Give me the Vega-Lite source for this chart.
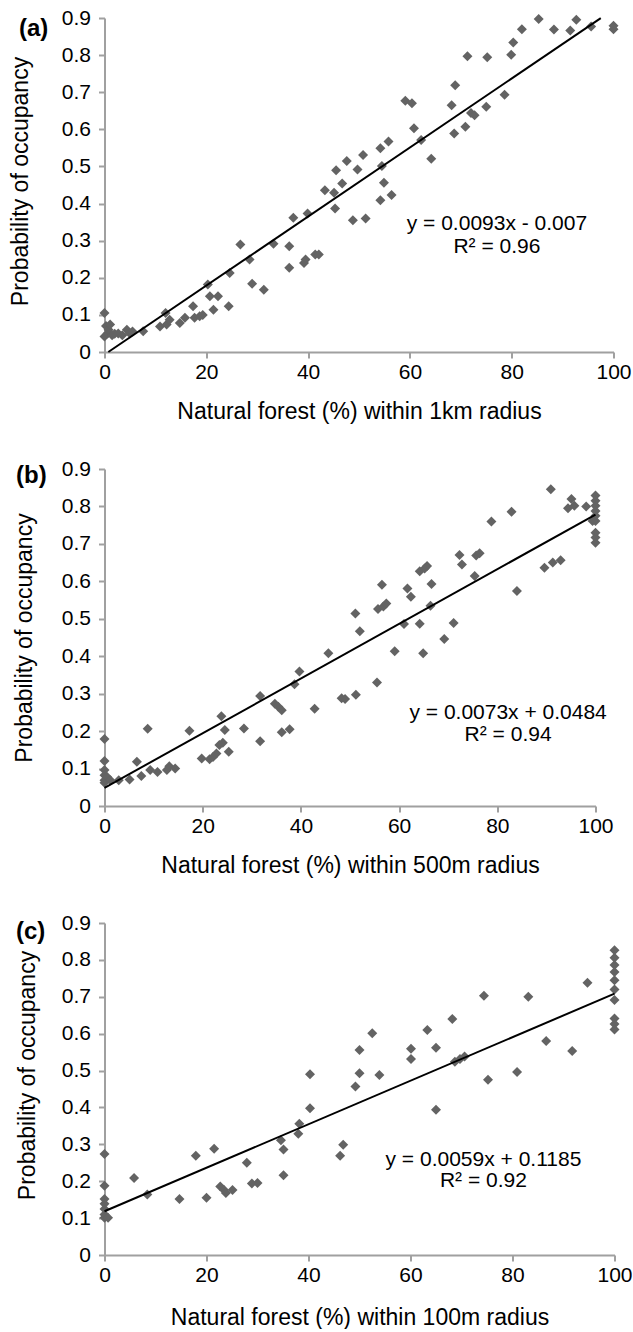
{
  "$schema": "https://vega.github.io/schema/vega-lite/v6.json",
  "background": "white",
  "padding": {"left": 9.5, "top": 7, "right": 0, "bottom": 0},
  "config": {
    "font": "Liberation Sans",
    "view": {"stroke": null},
    "axis": {
      "grid": false,
      "domainColor": "#a0a0a0",
      "domainWidth": 2,
      "tickColor": "#a0a0a0",
      "tickWidth": 2,
      "tickSize": 6,
      "labelColor": "black",
      "titleColor": "black",
      "labelFont": "Liberation Sans",
      "titleFont": "Liberation Sans",
      "labelFontSize": 21,
      "titleFontSize": 23,
      "titleFontWeight": "normal",
      "labelFlush": false,
      "labelOverlap": false
    },
    "axisX": {"labelPadding": 3, "titleBaseline": "alphabetic", "format": "d"},
    "axisY": {"labelPadding": 8, "format": "~g"},
    "title": {"fontSize": 24, "fontWeight": "bold", "anchor": "start", "frame": "group", "color": "black", "font": "Liberation Sans"}
  },
  "datasets": {
    "a": [
      {"x": 0, "y": 0.105}, {"x": 0, "y": 0.042}, {"x": 0.3, "y": 0.07}, {"x": 0.6, "y": 0.05}, {"x": 0.8, "y": 0.06},
      {"x": 1.1, "y": 0.074}, {"x": 1.5, "y": 0.045}, {"x": 2, "y": 0.049}, {"x": 2.7, "y": 0.05}, {"x": 3.5, "y": 0.045},
      {"x": 4.4, "y": 0.06}, {"x": 5, "y": 0.05}, {"x": 5.5, "y": 0.055}, {"x": 7.6, "y": 0.056}, {"x": 10.9, "y": 0.069},
      {"x": 12, "y": 0.105}, {"x": 12.2, "y": 0.074}, {"x": 12.8, "y": 0.087}, {"x": 14.8, "y": 0.078}, {"x": 15.8, "y": 0.092},
      {"x": 17.4, "y": 0.123}, {"x": 17.7, "y": 0.092}, {"x": 18.7, "y": 0.096}, {"x": 19.3, "y": 0.1}, {"x": 20.3, "y": 0.182},
      {"x": 20.7, "y": 0.15}, {"x": 21.4, "y": 0.114}, {"x": 22.3, "y": 0.15}, {"x": 24.4, "y": 0.123}, {"x": 24.6, "y": 0.213},
      {"x": 26.7, "y": 0.29}, {"x": 28.5, "y": 0.249}, {"x": 29, "y": 0.184}, {"x": 31.3, "y": 0.168}, {"x": 33.2, "y": 0.292},
      {"x": 36.3, "y": 0.227}, {"x": 36.3, "y": 0.285}, {"x": 37.1, "y": 0.362}, {"x": 39.2, "y": 0.24}, {"x": 39.5, "y": 0.249},
      {"x": 39.9, "y": 0.373}, {"x": 41.4, "y": 0.263}, {"x": 42.1, "y": 0.263}, {"x": 43.3, "y": 0.436}, {"x": 45.1, "y": 0.429},
      {"x": 45.3, "y": 0.387}, {"x": 45.5, "y": 0.49}, {"x": 46.7, "y": 0.454}, {"x": 47.6, "y": 0.515}, {"x": 48.8, "y": 0.355},
      {"x": 49.7, "y": 0.492}, {"x": 50.8, "y": 0.531}, {"x": 51.3, "y": 0.36}, {"x": 54.2, "y": 0.549}, {"x": 54.5, "y": 0.501},
      {"x": 54.9, "y": 0.456}, {"x": 54.2, "y": 0.409}, {"x": 55.8, "y": 0.567}, {"x": 56.4, "y": 0.423}, {"x": 59.1, "y": 0.677},
      {"x": 60.4, "y": 0.67}, {"x": 60.8, "y": 0.603}, {"x": 62.2, "y": 0.571}, {"x": 64.2, "y": 0.521}, {"x": 68.2, "y": 0.665},
      {"x": 68.9, "y": 0.719}, {"x": 68.7, "y": 0.589}, {"x": 70.9, "y": 0.607}, {"x": 71.3, "y": 0.797}, {"x": 72, "y": 0.644},
      {"x": 72.7, "y": 0.638}, {"x": 75, "y": 0.661}, {"x": 75.2, "y": 0.794}, {"x": 78.6, "y": 0.693}, {"x": 79.9, "y": 0.801},
      {"x": 80.3, "y": 0.834}, {"x": 82, "y": 0.87}, {"x": 85.3, "y": 0.897}, {"x": 88.3, "y": 0.869}, {"x": 91.5, "y": 0.866},
      {"x": 92.7, "y": 0.895}, {"x": 95.6, "y": 0.877}, {"x": 100, "y": 0.879}, {"x": 100, "y": 0.87}
    ],
    "b": [
      {"x": 0, "y": 0.179}, {"x": 0, "y": 0.12}, {"x": 0, "y": 0.096}, {"x": 0, "y": 0.082}, {"x": 0, "y": 0.069},
      {"x": 0, "y": 0.062}, {"x": 0.5, "y": 0.078}, {"x": 1.2, "y": 0.069}, {"x": 2.9, "y": 0.069}, {"x": 5.1, "y": 0.071},
      {"x": 6.6, "y": 0.118}, {"x": 7.5, "y": 0.08}, {"x": 8.8, "y": 0.206}, {"x": 9.3, "y": 0.096}, {"x": 10.8, "y": 0.091},
      {"x": 12.7, "y": 0.096}, {"x": 13.2, "y": 0.106}, {"x": 14.4, "y": 0.1}, {"x": 17.3, "y": 0.201}, {"x": 19.8, "y": 0.127},
      {"x": 21.4, "y": 0.125}, {"x": 22.1, "y": 0.131}, {"x": 22.8, "y": 0.14}, {"x": 23.4, "y": 0.163}, {"x": 23.8, "y": 0.24},
      {"x": 24.1, "y": 0.169}, {"x": 24.5, "y": 0.203}, {"x": 25.3, "y": 0.145}, {"x": 28.4, "y": 0.207}, {"x": 31.7, "y": 0.294},
      {"x": 31.7, "y": 0.173}, {"x": 34.7, "y": 0.273}, {"x": 35.4, "y": 0.265}, {"x": 36.1, "y": 0.256}, {"x": 36.1, "y": 0.197},
      {"x": 37.7, "y": 0.205}, {"x": 38.7, "y": 0.325}, {"x": 39.7, "y": 0.359}, {"x": 42.8, "y": 0.26}, {"x": 45.6, "y": 0.408},
      {"x": 48.3, "y": 0.288}, {"x": 49, "y": 0.286}, {"x": 51.2, "y": 0.297}, {"x": 51.1, "y": 0.514}, {"x": 52, "y": 0.467},
      {"x": 55.5, "y": 0.33}, {"x": 55.7, "y": 0.526}, {"x": 56.5, "y": 0.591}, {"x": 56.8, "y": 0.533}, {"x": 57.4, "y": 0.541},
      {"x": 59.1, "y": 0.413}, {"x": 61, "y": 0.486}, {"x": 61.7, "y": 0.581}, {"x": 62.4, "y": 0.559}, {"x": 64.2, "y": 0.487},
      {"x": 64.2, "y": 0.627}, {"x": 64.9, "y": 0.408}, {"x": 65.2, "y": 0.634}, {"x": 65.7, "y": 0.641}, {"x": 66.4, "y": 0.535},
      {"x": 66.6, "y": 0.593}, {"x": 69.2, "y": 0.446}, {"x": 71.1, "y": 0.489}, {"x": 72.3, "y": 0.67}, {"x": 72.8, "y": 0.645},
      {"x": 75.4, "y": 0.614}, {"x": 75.7, "y": 0.669}, {"x": 76.4, "y": 0.675}, {"x": 78.8, "y": 0.76}, {"x": 82.9, "y": 0.786},
      {"x": 84, "y": 0.574}, {"x": 89.6, "y": 0.636}, {"x": 90.9, "y": 0.846}, {"x": 91.3, "y": 0.65}, {"x": 92.9, "y": 0.656},
      {"x": 94.4, "y": 0.795}, {"x": 95.1, "y": 0.82}, {"x": 95.7, "y": 0.802}, {"x": 98.1, "y": 0.8}, {"x": 100, "y": 0.829},
      {"x": 100, "y": 0.815}, {"x": 100, "y": 0.802}, {"x": 100, "y": 0.788}, {"x": 100, "y": 0.775}, {"x": 100, "y": 0.761},
      {"x": 99.4, "y": 0.761}, {"x": 100, "y": 0.73}, {"x": 100, "y": 0.717}, {"x": 100, "y": 0.703}
    ],
    "c": [
      {"x": 0, "y": 0.274}, {"x": 0, "y": 0.188}, {"x": 0, "y": 0.152}, {"x": 0, "y": 0.139}, {"x": 0, "y": 0.125},
      {"x": 0, "y": 0.11}, {"x": 0, "y": 0.101}, {"x": 0.7, "y": 0.101}, {"x": 5.8, "y": 0.209}, {"x": 8.4, "y": 0.164},
      {"x": 14.7, "y": 0.152}, {"x": 17.9, "y": 0.269}, {"x": 20, "y": 0.155}, {"x": 21.5, "y": 0.288}, {"x": 22.7, "y": 0.186},
      {"x": 23.4, "y": 0.177}, {"x": 23.8, "y": 0.168}, {"x": 25.1, "y": 0.176}, {"x": 27.9, "y": 0.25}, {"x": 28.9, "y": 0.194},
      {"x": 30, "y": 0.195}, {"x": 34.6, "y": 0.311}, {"x": 35.1, "y": 0.286}, {"x": 35.1, "y": 0.216}, {"x": 38, "y": 0.329},
      {"x": 38.2, "y": 0.356}, {"x": 40.3, "y": 0.49}, {"x": 40.3, "y": 0.398}, {"x": 46.2, "y": 0.269}, {"x": 46.8, "y": 0.299},
      {"x": 49.2, "y": 0.457}, {"x": 50, "y": 0.493}, {"x": 50, "y": 0.556}, {"x": 52.5, "y": 0.601}, {"x": 53.9, "y": 0.488},
      {"x": 60.1, "y": 0.531}, {"x": 60.1, "y": 0.559}, {"x": 63.3, "y": 0.61}, {"x": 65, "y": 0.562}, {"x": 65, "y": 0.394},
      {"x": 68.2, "y": 0.64}, {"x": 68.7, "y": 0.524}, {"x": 69.7, "y": 0.531}, {"x": 70.6, "y": 0.538}, {"x": 74.4, "y": 0.703},
      {"x": 75.2, "y": 0.475}, {"x": 80.9, "y": 0.496}, {"x": 83.1, "y": 0.7}, {"x": 86.6, "y": 0.58}, {"x": 91.7, "y": 0.553},
      {"x": 94.7, "y": 0.738}, {"x": 100, "y": 0.826}, {"x": 100, "y": 0.806}, {"x": 100, "y": 0.786}, {"x": 100, "y": 0.767},
      {"x": 100, "y": 0.745}, {"x": 100, "y": 0.72}, {"x": 100, "y": 0.691}, {"x": 100, "y": 0.641}, {"x": 100, "y": 0.626},
      {"x": 100, "y": 0.611}
    ],
    "aLine": [{"x": 0.75, "y": 0}, {"x": 97.5, "y": 0.8998}],
    "bLine": [{"x": 0, "y": 0.0484}, {"x": 100, "y": 0.7784}],
    "cLine": [{"x": 0, "y": 0.1185}, {"x": 100, "y": 0.7085}],
    "aEq": [{"label": "y = 0.0093x - 0.007"}, {"label": "R² = 0.96"}],
    "bEq": [{"label": "y = 0.0073x + 0.0484"}, {"label": "R² = 0.94"}],
    "cEq": [{"label": "y = 0.0059x + 0.1185"}, {"label": "R² = 0.92"}]
  },
  "align": {"row": "none", "column": "all"},
  "spacing": 34,
  "vconcat": [
    {
      "width": 509, "height": 334,
      "title": {"text": "(a)", "dx": -85.5, "dy": 38},
      "layer": [
        {"data": {"name": "a"}, "mark": {"type": "point", "shape": "diamond", "filled": true, "size": 100, "color": "#636363", "opacity": 1},
         "encoding": {
           "x": {"field": "x", "type": "quantitative", "scale": {"domain": [0, 100]}, "axis": {"values": [0, 20, 40, 60, 80, 100], "title": "Natural forest (%) within 1km radius", "titleY": 66.6}},
           "y": {"field": "y", "type": "quantitative", "scale": {"domain": [0, 0.9]}, "axis": {"values": [0, 0.1, 0.2, 0.3, 0.4, 0.5, 0.6, 0.7, 0.8, 0.9], "title": "Probability of occupancy", "titleX": -72, "titleY": 163}}
         }},
        {"data": {"name": "aLine"}, "mark": {"type": "line", "color": "black", "strokeWidth": 2},
         "encoding": {
           "x": {"field": "x", "type": "quantitative", "axis": {"values": [0, 20, 40, 60, 80, 100], "title": "Natural forest (%) within 1km radius", "titleY": 66.6}},
           "y": {"field": "y", "type": "quantitative", "axis": {"values": [0, 0.1, 0.2, 0.3, 0.4, 0.5, 0.6, 0.7, 0.8, 0.9], "title": "Probability of occupancy", "titleX": -72, "titleY": 163}}
         }},
        {"data": {"name": "aEq"}, "mark": {"type": "text", "fontSize": 21, "align": "center", "baseline": "alphabetic", "color": "black"},
         "transform": [{"filter": "indexof(datum.label, 'R') < 0"}],
         "encoding": {
           "x": {"datum": 77.1, "type": "quantitative", "axis": {"values": [0, 20, 40, 60, 80, 100], "title": "Natural forest (%) within 1km radius", "titleY": 66.6}},
           "y": {"datum": 0.3275, "type": "quantitative", "axis": {"values": [0, 0.1, 0.2, 0.3, 0.4, 0.5, 0.6, 0.7, 0.8, 0.9], "title": "Probability of occupancy", "titleX": -72, "titleY": 163}},
           "text": {"field": "label", "type": "nominal"}}},
        {"data": {"name": "aEq"}, "mark": {"type": "text", "fontSize": 21, "align": "center", "baseline": "alphabetic", "color": "black"},
         "transform": [{"filter": "indexof(datum.label, 'R') >= 0"}],
         "encoding": {
           "x": {"datum": 77.1, "type": "quantitative", "axis": {"values": [0, 20, 40, 60, 80, 100], "title": "Natural forest (%) within 1km radius", "titleY": 66.6}},
           "y": {"datum": 0.2655, "type": "quantitative", "axis": {"values": [0, 0.1, 0.2, 0.3, 0.4, 0.5, 0.6, 0.7, 0.8, 0.9], "title": "Probability of occupancy", "titleX": -72, "titleY": 163}},
           "text": {"field": "label", "type": "nominal"}}}
      ]
    },
    {
      "width": 491, "height": 337,
      "title": {"text": "(b)", "dx": -88.5, "dy": 33.5},
      "layer": [
        {"data": {"name": "b"}, "mark": {"type": "point", "shape": "diamond", "filled": true, "size": 100, "color": "#636363", "opacity": 1},
         "encoding": {
           "x": {"field": "x", "type": "quantitative", "scale": {"domain": [0, 100]}, "axis": {"values": [0, 20, 40, 60, 80, 100], "title": "Natural forest (%) within 500m radius", "titleY": 66.6}},
           "y": {"field": "y", "type": "quantitative", "scale": {"domain": [0, 0.9]}, "axis": {"values": [0, 0.1, 0.2, 0.3, 0.4, 0.5, 0.6, 0.7, 0.8, 0.9], "title": "Probability of occupancy", "titleX": -68}}
         }},
        {"data": {"name": "bLine"}, "mark": {"type": "line", "color": "black", "strokeWidth": 2},
         "encoding": {
           "x": {"field": "x", "type": "quantitative", "axis": {"values": [0, 20, 40, 60, 80, 100], "title": "Natural forest (%) within 500m radius", "titleY": 66.6}},
           "y": {"field": "y", "type": "quantitative", "axis": {"values": [0, 0.1, 0.2, 0.3, 0.4, 0.5, 0.6, 0.7, 0.8, 0.9], "title": "Probability of occupancy", "titleX": -68}}
         }},
        {"data": {"name": "bEq"}, "mark": {"type": "text", "fontSize": 21, "align": "center", "baseline": "alphabetic", "color": "black"},
         "transform": [{"filter": "indexof(datum.label, 'R') < 0"}],
         "encoding": {
           "x": {"datum": 82.2, "type": "quantitative", "axis": {"values": [0, 20, 40, 60, 80, 100], "title": "Natural forest (%) within 500m radius", "titleY": 66.6}},
           "y": {"datum": 0.2334, "type": "quantitative", "axis": {"values": [0, 0.1, 0.2, 0.3, 0.4, 0.5, 0.6, 0.7, 0.8, 0.9], "title": "Probability of occupancy", "titleX": -68}},
           "text": {"field": "label", "type": "nominal"}}},
        {"data": {"name": "bEq"}, "mark": {"type": "text", "fontSize": 21, "align": "center", "baseline": "alphabetic", "color": "black"},
         "transform": [{"filter": "indexof(datum.label, 'R') >= 0"}],
         "encoding": {
           "x": {"datum": 82.2, "type": "quantitative", "axis": {"values": [0, 20, 40, 60, 80, 100], "title": "Natural forest (%) within 500m radius", "titleY": 66.6}},
           "y": {"datum": 0.1746, "type": "quantitative", "axis": {"values": [0, 0.1, 0.2, 0.3, 0.4, 0.5, 0.6, 0.7, 0.8, 0.9], "title": "Probability of occupancy", "titleX": -68}},
           "text": {"field": "label", "type": "nominal"}}}
      ]
    },
    {
      "width": 510, "height": 332,
      "title": {"text": "(c)", "dx": -88.5, "dy": 36},
      "layer": [
        {"data": {"name": "c"}, "mark": {"type": "point", "shape": "diamond", "filled": true, "size": 100, "color": "#636363", "opacity": 1},
         "encoding": {
           "x": {"field": "x", "type": "quantitative", "scale": {"domain": [0, 100]}, "axis": {"values": [0, 20, 40, 60, 80, 100], "title": "Natural forest (%) within 100m radius", "titleY": 69}},
           "y": {"field": "y", "type": "quantitative", "scale": {"domain": [0, 0.9]}, "axis": {"values": [0, 0.1, 0.2, 0.3, 0.4, 0.5, 0.6, 0.7, 0.8, 0.9], "title": "Probability of occupancy", "titleX": -65.5, "titleY": 152}}
         }},
        {"data": {"name": "cLine"}, "mark": {"type": "line", "color": "black", "strokeWidth": 2},
         "encoding": {
           "x": {"field": "x", "type": "quantitative", "axis": {"values": [0, 20, 40, 60, 80, 100], "title": "Natural forest (%) within 100m radius", "titleY": 69}},
           "y": {"field": "y", "type": "quantitative", "axis": {"values": [0, 0.1, 0.2, 0.3, 0.4, 0.5, 0.6, 0.7, 0.8, 0.9], "title": "Probability of occupancy", "titleX": -65.5, "titleY": 152}}
         }},
        {"data": {"name": "cEq"}, "mark": {"type": "text", "fontSize": 21, "align": "center", "baseline": "alphabetic", "color": "black"},
         "transform": [{"filter": "indexof(datum.label, 'R') < 0"}],
         "encoding": {
           "x": {"datum": 74.3, "type": "quantitative", "axis": {"values": [0, 20, 40, 60, 80, 100], "title": "Natural forest (%) within 100m radius", "titleY": 69}},
           "y": {"datum": 0.2426, "type": "quantitative", "axis": {"values": [0, 0.1, 0.2, 0.3, 0.4, 0.5, 0.6, 0.7, 0.8, 0.9], "title": "Probability of occupancy", "titleX": -65.5, "titleY": 152}},
           "text": {"field": "label", "type": "nominal"}}},
        {"data": {"name": "cEq"}, "mark": {"type": "text", "fontSize": 21, "align": "center", "baseline": "alphabetic", "color": "black"},
         "transform": [{"filter": "indexof(datum.label, 'R') >= 0"}],
         "encoding": {
           "x": {"datum": 74.3, "type": "quantitative", "axis": {"values": [0, 20, 40, 60, 80, 100], "title": "Natural forest (%) within 100m radius", "titleY": 69}},
           "y": {"datum": 0.1830, "type": "quantitative", "axis": {"values": [0, 0.1, 0.2, 0.3, 0.4, 0.5, 0.6, 0.7, 0.8, 0.9], "title": "Probability of occupancy", "titleX": -65.5, "titleY": 152}},
           "text": {"field": "label", "type": "nominal"}}}
      ]
    }
  ]
}
